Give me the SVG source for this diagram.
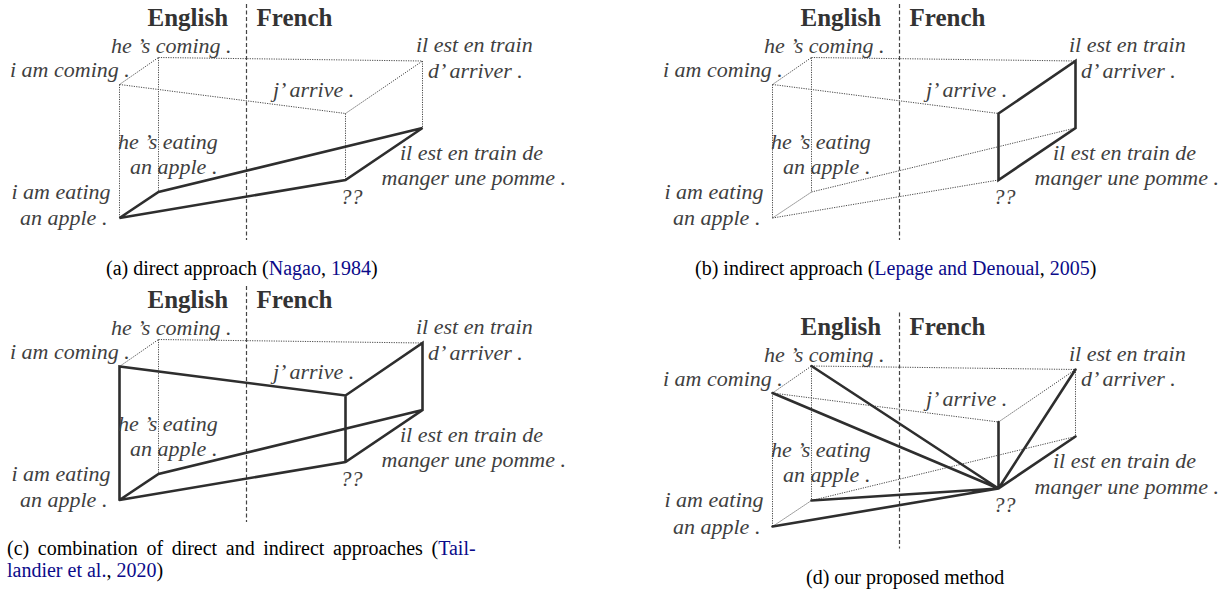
<svg xmlns="http://www.w3.org/2000/svg" width="1232" height="595" viewBox="0 0 1232 595">
<style>
text{font-family:'Liberation Serif','Tinos','DejaVu Serif','Noto Serif',serif}
.lbl{font-style:italic;font-size:22px;fill:#3f3f3f}
.ttl{font-weight:bold;font-size:25px;fill:#333}
.cap{font-size:20px;fill:#000}
.cite{fill:#0b0b8a}
.dot{stroke:#4a4a4a;stroke-width:1;stroke-dasharray:1.2 1.2;fill:none}
.bold{stroke:#2e2e2e;stroke-width:2.6;stroke-linecap:round;fill:none}
.sep{stroke:#444;stroke-width:1.2;stroke-dasharray:4 2.5;fill:none}
</style>
<rect width="1232" height="595" fill="#fff"/>

<!-- Panel a -->
<g id="panel-a" font-family="Liberation Serif, DejaVu Serif, serif">
  <g id="a-connectors">
    <line class="sep" x1="246.5" y1="4" x2="246.5" y2="240"/>
    <path class="dot" d="M119.5 84.5L158.5 57.5M158.5 57.5L422.5 61M119.5 84.5L345.5 113.5M345.5 113.5L422.5 61M119.5 84.5L119.5 218M158.5 57.5L158.5 192M345.5 113.5L345.5 180M422.5 61L422.5 128"/>
    <path class="bold" d="M119.5 218L158.5 192L422.5 128L345.5 180Z"/>
  </g>
  <g id="a-title"><text class="ttl" x="147.5" y="26">English</text><text class="ttl" x="256.5" y="26">French</text></g>
  <g id="a-n1"><text class="lbl" x="10" y="77">i am coming .</text></g>
  <g id="a-n2"><text class="lbl" x="111" y="53">he ’s coming .</text></g>
  <g id="a-n3"><text class="lbl" x="273" y="97">j’ arrive .</text></g>
  <g id="a-n4"><text class="lbl" x="416" y="52">il est en train</text><text class="lbl" x="428" y="77.5">d’ arriver .</text></g>
  <g id="a-n5"><text class="lbl" x="118" y="148.5">he ’s eating</text><text class="lbl" x="130" y="173.5">an apple .</text></g>
  <g id="a-n6"><text class="lbl" x="11.5" y="198.5">i am eating</text><text class="lbl" x="20" y="225">an apple .</text></g>
  <g id="a-n7"><text class="lbl" x="400" y="159.5">il est en train de</text><text class="lbl" x="381.5" y="185">manger une pomme .</text></g>
  <g id="a-n8"><text class="lbl" x="340.5" y="203.5">??</text></g>
  <text class="cap" x="106" y="275">(a) direct approach (<tspan class="cite">Nagao</tspan>, <tspan class="cite">1984</tspan>)</text>
</g>

<!-- Panel b -->
<g id="panel-b" transform="translate(653,0)">
  <g id="b-connectors">
    <line class="sep" x1="246.5" y1="4" x2="246.5" y2="240"/>
    <path class="dot" d="M119.5 84.5L158.5 57.5M158.5 57.5L422.5 61M119.5 84.5L345.5 113.5M119.5 84.5L119.5 218M158.5 57.5L158.5 192M119.5 218L158.5 192M158.5 192L422.5 128M119.5 218L345.5 180"/>
    <path class="bold" d="M345.5 113.5L422.5 61L422.5 128L345.5 180Z"/>
  </g>
  <g id="b-title"><text class="ttl" x="147.5" y="26">English</text><text class="ttl" x="256.5" y="26">French</text></g>
  <g id="b-n1"><text class="lbl" x="10" y="77">i am coming .</text></g>
  <g id="b-n2"><text class="lbl" x="111" y="53">he ’s coming .</text></g>
  <g id="b-n3"><text class="lbl" x="273" y="97">j’ arrive .</text></g>
  <g id="b-n4"><text class="lbl" x="416" y="52">il est en train</text><text class="lbl" x="428" y="77.5">d’ arriver .</text></g>
  <g id="b-n5"><text class="lbl" x="118" y="148.5">he ’s eating</text><text class="lbl" x="130" y="173.5">an apple .</text></g>
  <g id="b-n6"><text class="lbl" x="11.5" y="198.5">i am eating</text><text class="lbl" x="20" y="225">an apple .</text></g>
  <g id="b-n7"><text class="lbl" x="400" y="159.5">il est en train de</text><text class="lbl" x="381.5" y="185">manger une pomme .</text></g>
  <g id="b-n8"><text class="lbl" x="340.5" y="203.5">??</text></g>
  <text class="cap" x="42" y="275">(b) indirect approach (<tspan class="cite">Lepage and Denoual</tspan>, <tspan class="cite">2005</tspan>)</text>
</g>

<!-- Panel c -->
<g id="panel-c" transform="translate(0,282)">
  <g id="c-connectors">
    <line class="sep" x1="246.5" y1="4" x2="246.5" y2="240"/>
    <path class="dot" d="M119.5 84.5L158.5 57.5M158.5 57.5L422.5 61M158.5 57.5L158.5 192"/>
    <path class="bold" d="M119.5 218L119.5 84.5L345.5 113.5L422.5 61L422.5 128L345.5 180L119.5 218L158.5 192L422.5 128M345.5 113.5L345.5 180"/>
  </g>
  <g id="c-title"><text class="ttl" x="147.5" y="26">English</text><text class="ttl" x="256.5" y="26">French</text></g>
  <g id="c-n1"><text class="lbl" x="10" y="77">i am coming .</text></g>
  <g id="c-n2"><text class="lbl" x="111" y="53">he ’s coming .</text></g>
  <g id="c-n3"><text class="lbl" x="273" y="97">j’ arrive .</text></g>
  <g id="c-n4"><text class="lbl" x="416" y="52">il est en train</text><text class="lbl" x="428" y="77.5">d’ arriver .</text></g>
  <g id="c-n5"><text class="lbl" x="118" y="148.5">he ’s eating</text><text class="lbl" x="130" y="173.5">an apple .</text></g>
  <g id="c-n6"><text class="lbl" x="11.5" y="198.5">i am eating</text><text class="lbl" x="20" y="225">an apple .</text></g>
  <g id="c-n7"><text class="lbl" x="400" y="159.5">il est en train de</text><text class="lbl" x="381.5" y="185">manger une pomme .</text></g>
  <g id="c-n8"><text class="lbl" x="340.5" y="203.5">??</text></g>
  <text class="cap" x="7" y="273" word-spacing="3.6">(c) combination of direct and indirect approaches (<tspan class="cite">Tail-</tspan></text>
  <text class="cap" x="7" y="295"><tspan class="cite">landier et al.</tspan>, <tspan class="cite">2020</tspan>)</text>
</g>

<!-- Panel d -->
<g id="panel-d" transform="translate(653,308.5)">
  <g id="d-connectors">
    <line class="sep" x1="246.5" y1="4" x2="246.5" y2="240"/>
    <path class="dot" d="M119.5 84.5L158.5 57.5M158.5 57.5L422.5 61M119.5 84.5L345.5 113.5M345.5 113.5L422.5 61M119.5 84.5L119.5 218M158.5 57.5L158.5 192M422.5 61L422.5 128M119.5 218L158.5 192M158.5 192L422.5 128"/>
    <path class="bold" d="M158.5 57.5L345.5 180M119.5 84.5L345.5 180M158.5 192L345.5 180M119.5 218L345.5 180M345.5 113.5L345.5 180M422.5 61L345.5 180M422.5 128L345.5 180"/>
  </g>
  <g id="d-title"><text class="ttl" x="147.5" y="26">English</text><text class="ttl" x="256.5" y="26">French</text></g>
  <g id="d-n1"><text class="lbl" x="10" y="77">i am coming .</text></g>
  <g id="d-n2"><text class="lbl" x="111" y="53">he ’s coming .</text></g>
  <g id="d-n3"><text class="lbl" x="273" y="97">j’ arrive .</text></g>
  <g id="d-n4"><text class="lbl" x="416" y="52">il est en train</text><text class="lbl" x="428" y="77.5">d’ arriver .</text></g>
  <g id="d-n5"><text class="lbl" x="118" y="148.5">he ’s eating</text><text class="lbl" x="130" y="173.5">an apple .</text></g>
  <g id="d-n6"><text class="lbl" x="11.5" y="198.5">i am eating</text><text class="lbl" x="20" y="225">an apple .</text></g>
  <g id="d-n7"><text class="lbl" x="400" y="159.5">il est en train de</text><text class="lbl" x="381.5" y="185">manger une pomme .</text></g>
  <g id="d-n8"><text class="lbl" x="340.5" y="203.5">??</text></g>
  <text class="cap" x="153" y="275">(d) our proposed method</text>
</g>
</svg>
